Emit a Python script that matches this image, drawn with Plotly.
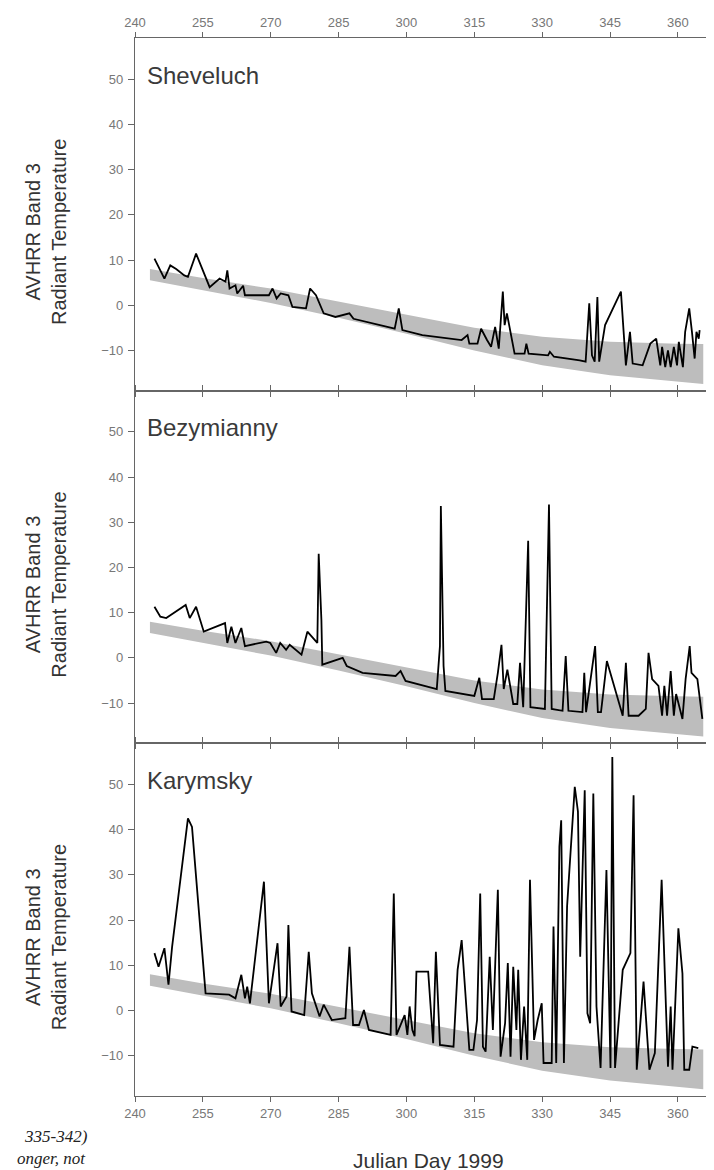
import plotly.graph_objects as go

# ---------------- data ----------------
band_days = [243.3, 255, 270, 285, 300, 315, 330, 345, 360, 365.6]
band_upper = [8.0, 6.0, 3.7, 0.8, -2.2, -5.0, -7.0, -8.1, -8.5, -8.6]
band_lower = [5.5, 3.3, 0.5, -2.8, -6.3, -10.0, -13.3, -15.5, -17.0, -17.4]

shev_day = [244.3, 246.5, 247.8, 249.1, 250.9, 251.7, 253.5, 256.5, 258.7, 260.0, 260.4, 260.9,
            262.2, 262.6, 263.9, 264.3, 269.6, 270.4, 271.3, 272.2, 273.9, 274.8, 277.8, 278.7,
            280.0, 281.7, 284.3, 287.4, 288.3, 297.4, 298.3, 299.1, 303.5, 312.2, 313.5, 313.9,
            315.7, 316.5, 317.8, 318.7, 319.6, 320.4, 321.3, 321.7, 322.2, 323.0, 323.9, 326.1,
            326.5, 327.0, 331.3, 331.7, 332.6, 338.3, 339.6, 340.4, 341.0, 341.6, 342.2, 342.6,
            343.9, 347.4, 348.5, 349.4, 350.0, 352.2, 353.9, 355.2, 356.1, 356.5, 357.2, 357.8,
            358.4, 359.1, 359.8, 360.2, 361.1, 361.6, 362.5, 363.1, 363.7, 364.1, 364.6, 364.8]
shev_val = [10.3, 5.9, 8.8, 8.0, 6.6, 6.3, 11.4, 4.0, 5.9, 5.2, 7.7, 3.7,
            4.4, 2.6, 4.3, 2.2, 2.2, 3.7, 1.5, 2.6, 2.2, -0.4, -0.7, 3.7,
            2.2, -1.8, -2.6, -1.8, -3.0, -5.2, -0.7, -5.5, -6.6, -7.7, -6.6, -8.5,
            -8.5, -5.2, -7.7, -9.2, -4.8, -9.6, 3.0, -4.4, -1.8, -5.9, -10.7, -10.7,
            -8.5, -10.7, -11.1, -10.3, -11.4, -12.2, -12.5, 0.4, -11.1, -12.5, 1.8, -12.5,
            -4.4, 3.0, -13.3, -5.9, -12.9, -13.3, -8.5, -7.4, -13.3, -9.2, -13.7, -10.0,
            -13.7, -9.2, -13.3, -8.1, -13.7, -5.9, -0.7, -5.9, -11.8, -5.9, -7.4, -5.5]

bez_day = [244.3, 245.6, 246.9, 251.2, 252.1, 253.5, 255.2, 259.9, 260.4, 261.3, 262.2, 263.5,
           264.3, 269.0, 269.9, 271.2, 272.1, 273.4, 274.2, 276.8, 278.1, 279.4, 280.3, 280.6,
           281.2, 281.4, 285.9, 286.8, 290.3, 297.6, 298.7, 299.8, 306.7, 307.4, 307.6, 308.2,
           308.6, 315.0, 316.1, 316.7, 319.3, 320.2, 321.0, 321.5, 322.3, 322.8, 323.6, 324.5,
           325.1, 325.8, 326.9, 327.4, 330.6, 331.5, 332.1, 334.5, 335.2, 335.8, 338.9, 339.3,
           339.7, 341.7, 342.3, 343.0, 344.3, 347.8, 348.5, 349.1, 351.3, 352.9, 353.5, 354.3,
           355.7, 356.5, 357.0, 357.6, 358.4, 359.1, 359.6, 361.0, 361.7, 362.6, 363.0, 364.3, 365.4]
bez_val = [11.3, 9.1, 8.8, 11.7, 8.8, 11.3, 5.8, 7.7, 3.3, 6.9, 3.3, 6.6,
           2.6, 3.6, 3.3, 1.1, 3.3, 1.8, 2.9, 0.7, 5.8, 4.4, 3.3, 23.0,
           8.4, -1.5, 0.0, -1.8, -3.3, -4.0, -2.9, -5.1, -6.9, 2.6, 33.6, -1.8,
           -7.3, -8.4, -4.4, -9.1, -9.1, -3.3, 2.9, -6.9, -2.6, -5.5, -10.2, -10.2,
           -1.1, -10.9, 25.9, -10.9, -11.3, 33.9, -11.3, -11.7, 0.4, -11.7, -12.0, -3.3,
           -12.0, 2.6, -12.0, -12.0, -0.7, -12.8, -1.1, -12.8, -12.8, -11.3, 1.1, -4.7,
           -6.2, -12.8, -6.2, -12.8, -2.9, -12.8, -8.0, -13.5, -4.7, 2.6, -3.3, -4.7, -13.5]

kar_day = [244.3, 245.2, 246.5, 247.4, 248.2, 251.7, 252.6, 255.6, 260.8, 262.2, 263.5, 264.3,
           264.8, 265.4, 268.5, 269.6, 271.5, 272.2, 273.5, 273.9, 274.6, 277.4, 278.4, 279.1,
           280.8, 281.7, 283.5, 286.5, 287.4, 288.2, 289.5, 290.6, 291.7, 296.5, 297.2, 297.8,
           299.6, 300.2, 300.7, 301.3, 301.8, 302.2, 304.8, 305.9, 306.5, 307.4, 310.4, 311.3,
           312.2, 313.9, 314.8, 315.6, 316.3, 316.9, 317.5, 318.4, 319.1, 320.2, 320.8, 321.8,
           322.4, 323.0, 323.6, 324.3, 324.7, 325.3, 326.0, 326.7, 327.3, 328.2, 329.0, 329.9,
           330.3, 332.1, 332.5, 333.1, 333.8, 334.2, 334.8, 335.5, 337.2, 337.9, 338.4, 339.4,
           340.0, 340.6, 341.3, 342.0, 342.9, 344.2, 345.1, 345.5, 346.1, 346.8, 347.8, 349.5,
           350.2, 350.9, 352.4, 353.7, 354.9, 356.4, 357.1, 357.8, 358.4, 358.8, 360.1, 361.0,
           361.4, 362.5, 363.2, 364.5]
kar_val = [12.7, 9.7, 13.8, 5.7, 14.1, 42.5, 40.6, 3.8, 3.5, 2.7, 7.9, 2.7,
           5.3, 1.6, 28.5, 1.6, 14.9, 0.9, 3.1, 18.9, -0.2, -1.0, 13.0, 3.8,
           -1.3, 1.3, -2.1, -1.7, 14.1, -3.2, -3.2, 0.1, -4.3, -5.4, 25.9, -5.4,
           -1.0, -5.4, 0.9, -4.3, -5.7, 8.6, 8.6, -7.2, 13.0, -7.6, -8.0, 9.0,
           15.6, -8.7, -8.7, -2.1, 25.9, -8.0, -9.1, 11.9, -4.3, 26.7, -10.2, -2.8,
           10.5, -10.2, 9.7, -4.3, 9.0, -10.9, 0.9, -10.9, 28.9, -6.5, -2.1, 1.6,
           -11.6, -11.6, 18.6, -11.6, 36.2, 42.1, -11.6, 23.0, 49.5, 44.0, 11.9, 48.7,
           -0.6, -2.8, 48.0, 0.9, -12.7, 31.1, -12.7, 56.1, -12.7, -3.5, 9.0, 12.7,
           47.6, -13.1, 6.4, -13.1, -9.4, 28.9, 8.2, -12.4, 0.9, -13.1, 18.2, 8.2,
           -13.1, -13.1, -8.0, -8.3]

panel_names = ["Sheveluch", "Bezymianny", "Karymsky"]
x_ticks = [240, 255, 270, 285, 300, 315, 330, 345, 360]
y_ticks = [-10, 0, 10, 20, 30, 40, 50]
y_title = "AVHRR Band 3<br>Radiant Temperature"
x_title = "Julian Day 1999"
series = [(shev_day, shev_val), (bez_day, bez_val), (kar_day, kar_val)]

# ---------------- figure ----------------
L, R, T, B = 127, 712, 30, 1088
W, H = 714, 1170
fig = go.Figure()

domains = [[2/3, 1.0], [1/3, 2/3], [0.0, 1/3]]
axis_font = dict(family="Liberation Sans Narrow, Liberation Sans, Arial", size=13, color="#777777")
line_col = "#666666"

for i, (days, vals) in enumerate(series):
    n = i + 1
    xa = "x" if n == 1 else f"x{n}"
    ya = "y" if n == 1 else f"y{n}"
    fig.add_trace(go.Scatter(x=band_days, y=band_upper, mode="lines", line=dict(width=0),
                             xaxis=xa, yaxis=ya, showlegend=False, hoverinfo="skip"))
    fig.add_trace(go.Scatter(x=band_days, y=band_lower, mode="lines", line=dict(width=0),
                             fill="tonexty", fillcolor="#bdbdbd",
                             xaxis=xa, yaxis=ya, showlegend=False, hoverinfo="skip"))
    fig.add_trace(go.Scatter(x=days, y=vals, mode="lines", line=dict(color="black", width=1.8),
                             xaxis=xa, yaxis=ya, showlegend=False))

    xkey = "xaxis" if n == 1 else f"xaxis{n}"
    ykey = "yaxis" if n == 1 else f"yaxis{n}"
    xaxis = dict(domain=[0, 1], anchor=ya, range=[240, 369.3], tickvals=x_ticks,
                 showline=True, linecolor=line_col, linewidth=1.3, mirror="ticks",
                 ticks="outside", ticklen=5, tickcolor=line_col, tickwidth=1.2,
                 showgrid=False, zeroline=False, tickfont=axis_font)
    if n == 1:
        xaxis.update(side="top", showticklabels=True, ticklabelstandoff=0)
    elif n == 3:
        xaxis.update(side="bottom", showticklabels=True, ticklabelstandoff=0)
    else:
        xaxis.update(showticklabels=False)
    yaxis = dict(domain=domains[i], anchor=xa, range=[-18.9, 59.1], tickvals=y_ticks,
                 showline=True, linecolor=line_col, linewidth=1.3, mirror=True,
                 ticks="outside", ticklen=6, tickcolor=line_col, tickwidth=1.2,
                 showgrid=False, zeroline=False, tickfont=axis_font, ticklabelstandoff=2)
    fig.update_layout({xkey: xaxis, ykey: yaxis})

    # panel name
    top_px = T + i * (B - T) / 3
    fig.add_annotation(text=panel_names[i], xref="paper", yref="paper",
                       x=(137 - L) / (R - L), y=(B - (top_px + 37)) / (B - T),
                       xanchor="left", yanchor="middle", showarrow=False,
                       font=dict(family="Liberation Sans, Arial", size=24, color="#3a3a3a"))
    # y title
    fig.add_annotation(text=y_title, xref="paper", yref="paper",
                       x=(38 - L) / (R - L), y=(B - (top_px + 194)) / (B - T),
                       xanchor="center", yanchor="middle", showarrow=False, textangle=-90,
                       font=dict(family="Liberation Sans, Arial", size=20, color="#333333"))

fig.add_annotation(text=x_title, xref="paper", yref="paper",
                   x=(420 - L) / (R - L), y=(B - 1152) / (B - T),
                   xanchor="center", yanchor="middle", showarrow=False,
                   font=dict(family="Liberation Sans, Arial", size=21, color="#333333"))
fig.add_annotation(text="<i>335-342)</i>", xref="paper", yref="paper",
                   x=(82 - L) / (R - L), y=(B - 1128) / (B - T),
                   xanchor="right", yanchor="middle", showarrow=False,
                   font=dict(family="Liberation Serif, Times New Roman", size=17, color="#222222"))
fig.add_annotation(text="<i>onger, not</i>", xref="paper", yref="paper",
                   x=(80 - L) / (R - L), y=(B - 1150) / (B - T),
                   xanchor="right", yanchor="middle", showarrow=False,
                   font=dict(family="Liberation Serif, Times New Roman", size=17, color="#222222"))

fig.update_layout(width=W, height=H, margin=dict(l=L, r=W - R, t=T, b=H - B),
                  paper_bgcolor="white", plot_bgcolor="white", showlegend=False)
fig.write_html("out.html")
